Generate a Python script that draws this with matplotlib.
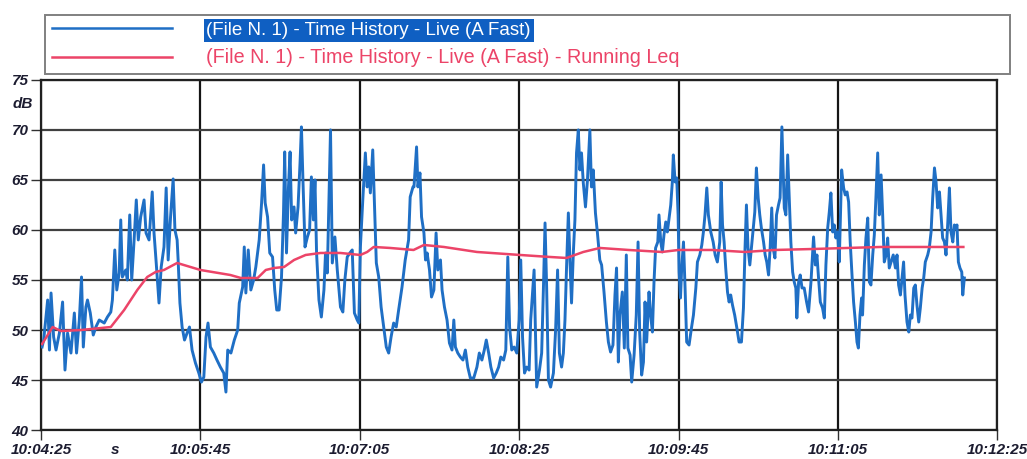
import matplotlib
matplotlib.use("Agg")
import matplotlib.pyplot as plt
from matplotlib.lines import Line2D
from matplotlib.ticker import FixedLocator, FuncFormatter
from matplotlib.transforms import blended_transform_factory

# Measurement start: 10:04:25 (all times below are seconds from the start)
START_SECONDS = 10 * 3600 + 4 * 60 + 25

live_t = [
    0.5, 1.3, 3.3, 4.2, 5.0, 6.3, 7.5, 9.2, 10.8, 12.0,
    13.3, 15.0, 16.7, 17.8, 19.2, 20.3, 21.2, 22.5, 23.3, 24.7,
    26.2, 27.5, 29.2, 31.7, 33.3, 35.0, 35.8, 37.0, 38.0, 39.2,
    40.0, 40.8, 42.5, 43.3, 44.5, 45.5, 46.7, 47.8, 48.8, 50.0,
    51.7, 52.7, 54.2, 55.8, 56.7, 57.8, 59.2, 60.3, 61.7, 62.8,
    63.8, 65.0, 66.3, 67.2, 68.3, 68.8, 69.7, 70.8, 72.0, 73.3,
    74.5, 75.8, 77.5, 79.2, 80.5, 81.7, 82.8, 83.8, 85.0, 86.7,
    88.3, 90.0, 91.7, 92.8,
    93.7, 95.3, 97.0, 98.7, 99.5, 101.2, 102.0, 102.8, 104.0, 105.3,
    106.7, 107.8, 109.5, 110.7, 111.7, 112.5, 113.7, 114.8, 116.2, 117.3,
    118.3, 119.5, 120.7, 121.7, 122.3, 123.2, 124.2, 125.0, 125.8, 127.0,
    127.8, 129.0, 130.0, 130.7, 131.5, 132.5, 133.7, 134.8, 135.7, 136.7,
    137.5, 138.3, 139.5, 140.7, 142.0, 142.8, 143.7, 144.5, 145.3, 146.2,
    147.5, 148.7, 150.3, 151.5, 152.5, 153.7, 155.0, 156.2, 157.3, 158.7,
    159.5, 160.3, 161.5, 162.8, 163.7, 164.5, 165.3, 166.5, 167.5, 168.3,
    169.5, 170.7, 172.0, 173.3, 174.5, 175.7, 177.0, 178.3, 179.5, 181.2,
    182.8, 184.5, 185.3, 186.7,
    187.2, 188.5, 189.2, 190.2, 191.0, 192.2, 193.0, 193.8, 195.0, 196.0,
    197.2, 198.3, 199.2, 200.5, 201.3, 202.5, 203.8, 205.0, 206.3, 207.2,
    208.0, 209.2, 210.5, 211.8, 213.0, 214.2, 215.5, 217.2, 218.8, 220.0,
    221.3, 222.5, 223.5, 224.7, 225.8, 227.2, 228.5, 229.7, 230.8, 232.2,
    233.3, 234.3, 235.2, 236.3, 237.5, 238.8, 240.0, 240.8, 241.7, 242.7,
    243.8, 245.0, 245.8, 246.7, 247.5, 248.2, 248.8, 250.2, 251.3, 252.2,
    253.0, 253.8, 254.7, 255.8, 257.2, 258.3, 259.3, 260.2, 261.3, 262.2,
    263.0, 263.8, 264.7, 265.5, 266.3, 267.2, 268.0, 268.8, 269.7, 270.5,
    271.3, 272.2, 273.3, 274.3, 275.5, 276.3, 277.2, 278.3, 279.3, 280.5,
    281.4, 282.6, 283.8, 284.8, 285.9, 287.1, 288.1, 288.9, 289.8, 290.6,
    291.8, 292.8, 293.8, 294.6, 295.7, 296.5, 297.7, 298.8, 299.7, 300.5,
    301.5, 302.4, 303.2, 304.0, 305.2, 306.0, 306.9, 307.7, 308.5, 309.6,
    310.2, 311.1, 311.9, 312.7, 313.6, 314.4, 315.3, 316.1, 316.9, 317.4,
    318.3, 319.1, 319.8, 320.3, 321.0, 321.6, 322.5, 323.3, 324.1, 325.3,
    326.5, 327.5, 328.7, 329.5, 330.7, 331.7, 332.5, 333.3, 334.2, 335.0,
    336.2, 337.4, 338.4, 339.5, 340.7, 341.4, 342.1, 342.9, 343.7, 344.6,
    345.4, 346.2, 347.1, 348.2, 349.3, 350.4, 351.6, 352.6, 353.4, 354.1,
    354.9, 355.8, 356.6, 357.5, 358.3, 359.1, 360.0, 360.8, 361.6, 362.7,
    363.5, 364.3, 365.2, 366.0, 366.8, 367.5, 368.4, 369.2, 370.2, 371.0, 371.9,
    373.1, 373.9, 374.8, 375.6, 376.4, 377.3, 378.1, 378.9, 379.4, 380.3,
    381.1, 382.0, 383.1, 384.3, 385.3, 386.5, 387.3, 387.8, 388.7, 389.5,
    390.3, 391.2, 392.3, 393.2, 394.0, 394.9, 395.7, 396.5, 397.4, 398.2,
    399.0, 399.9, 400.7, 401.2, 401.9, 402.9, 403.7, 404.6, 405.4, 406.2,
    407.1, 407.9, 408.8, 409.6, 410.3, 411.1, 411.9, 412.4, 413.3, 414.1,
    415.0, 415.8, 416.6, 417.5, 418.3, 419.1, 420.0, 420.8, 421.7, 422.5,
    423.3, 424.2, 425.0, 425.8, 426.7, 427.8, 428.9, 429.7, 430.5, 431.4,
    432.4, 433.0, 433.7, 434.7, 435.6, 436.4, 437.2, 438.1, 438.9, 439.7,
    440.6, 441.4, 442.3, 443.1, 443.9, 445.1, 445.9, 446.8, 447.6, 448.5,
    449.3, 450.1, 451.0, 451.8, 452.6, 453.5, 454.3, 455.2, 456.0, 456.8,
    457.7, 458.5, 459.3, 459.8, 460.5, 461.3, 462.2, 462.7, 463.5,
]

live_db = [
    48.3, 49.0, 53.0, 48.0, 53.7, 49.3, 48.0, 49.7, 52.8, 46.0,
    49.7, 47.7, 51.7, 47.7, 51.0, 55.3, 48.3, 52.3, 53.0, 51.7,
    49.5, 50.3, 51.0, 50.7, 51.3, 51.8, 53.0, 58.0, 54.0, 55.7,
    61.0, 55.3, 56.0, 55.0, 61.5, 55.0, 59.0, 63.0, 59.0, 61.3,
    63.0, 59.7, 59.0, 63.8, 59.7, 56.7, 52.7, 56.3, 58.3, 64.2,
    57.0, 61.3, 65.1, 60.0, 59.0, 57.0, 52.7, 50.3, 49.0, 49.7,
    50.3, 48.0, 46.7, 45.7, 44.8, 45.3, 49.3, 50.7, 48.3, 47.7,
    47.0, 46.3, 45.7, 43.8,
    48.0, 47.7, 49.0, 50.0, 52.7, 54.3, 58.3, 53.7, 58.0, 54.0,
    55.0, 56.3, 59.0, 62.7, 66.5, 62.7, 61.3, 57.7, 57.3, 54.0,
    52.0, 52.0, 55.3, 61.7, 67.8, 57.7, 64.3, 67.8, 61.0, 62.3,
    59.7, 62.3, 66.7, 70.3, 64.7, 58.3, 59.3, 60.0, 65.3, 61.0,
    65.0, 57.7, 53.0, 51.3, 54.0, 57.7, 55.7, 62.7, 70.0, 56.7,
    59.3, 56.0, 52.3, 51.8, 55.0, 57.3, 57.7, 58.0, 51.7, 51.0,
    50.7, 58.3, 63.0, 67.7, 64.3, 66.3, 63.7, 68.0, 61.7, 56.7,
    55.3, 52.3, 50.3, 48.3, 47.7, 49.3, 50.7, 50.3, 52.0, 54.3,
    57.0, 59.0, 63.3, 64.3,
    64.3, 68.3, 64.3, 65.7, 61.3, 59.7, 57.0, 57.7, 56.0, 53.3,
    54.0, 59.7, 56.0, 57.0, 54.0, 52.3, 51.0, 48.7, 48.0, 51.0,
    48.3, 47.7, 47.3, 47.0, 48.0, 46.3, 45.2, 45.2, 46.3, 47.7,
    47.0, 48.0, 49.0, 47.7, 46.3, 45.2, 45.7, 46.3, 47.3, 47.0,
    48.0, 57.3, 50.3, 48.0, 48.3, 47.7, 51.0, 57.0, 49.3, 45.7,
    46.3, 46.0, 51.0, 53.7, 56.0, 49.7, 44.3, 46.0, 47.7, 54.3,
    60.7, 54.3, 45.0, 44.3, 45.7, 50.0, 56.0, 47.7, 46.3, 47.7,
    51.0, 56.3, 61.7, 57.0, 52.7, 57.7, 61.0, 67.7, 70.0, 66.0,
    67.7, 64.7, 62.3, 65.0, 70.0, 64.3, 66.0, 61.7, 59.7, 57.0,
    56.5, 53.8, 50.8, 48.8, 47.8, 48.5, 53.5, 56.2, 46.8, 51.5,
    53.8, 48.2, 57.5, 48.2, 47.5, 44.8, 47.5, 51.5, 58.8, 49.8,
    45.5, 46.8, 52.8, 48.8, 53.8, 51.5, 49.8, 54.8, 58.2, 58.8,
    61.5, 58.8, 57.8, 59.5, 60.8, 59.8, 61.2, 62.5, 64.8, 67.5,
    64.8, 65.2, 61.5, 55.8, 53.2, 56.2, 58.8, 54.2, 48.8, 48.5,
    50.2, 51.5, 54.2, 56.8, 57.5, 58.5, 59.8, 61.5, 64.2, 61.5,
    59.8, 58.8, 57.5, 56.8, 58.8, 64.8, 60.5, 58.8, 56.2, 53.8,
    52.8, 53.5, 52.5, 51.5, 50.2, 48.8, 48.8, 52.2, 58.2, 62.5,
    58.2, 56.5, 58.2, 60.2, 61.8, 66.2, 63.2, 61.5, 60.2, 58.8,
    57.5, 56.8, 55.5, 58.2, 62.2, 58.2, 57.2, 61.5, 62.5, 63.2, 70.3,
    62.2, 61.5, 67.5, 63.2, 58.8, 55.8, 54.8, 54.2, 51.2, 54.8,
    55.5, 54.2, 54.2, 52.8, 51.8, 54.8, 57.5, 59.3, 56.5, 57.5,
    55.2, 52.8, 52.2, 51.2, 56.5, 60.2, 61.8, 63.7, 59.8, 60.5,
    59.2, 59.8, 56.8, 60.5, 66.0, 64.2, 63.5, 63.8, 62.8, 58.8,
    55.5, 52.8, 50.8, 48.8, 48.2, 51.5, 53.2, 51.5, 56.5, 59.2,
    61.2, 54.8, 54.5, 57.5, 59.5, 63.2, 67.7, 61.5, 65.5, 61.5,
    56.8, 57.5, 59.2, 56.2, 56.8, 57.5, 56.2, 57.5, 54.5, 53.5,
    55.5, 56.8, 53.5, 50.8, 49.8, 51.5, 51.2, 54.2, 54.5, 52.5,
    50.8, 52.2, 54.2, 55.2, 56.8, 57.5, 58.2, 59.8, 63.2, 66.2,
    64.8, 62.2, 63.8, 61.5, 59.2, 58.8, 57.5, 60.8, 64.2, 59.8,
    58.8, 60.5, 60.2, 60.5, 56.8, 56.2, 55.8, 53.5, 55.2,
]

leq_t = [
    0.5, 5.8, 10, 20, 30, 35, 41.7, 48.3, 53.3, 57.5, 61.7, 68.3,
    80, 95, 100.3, 108.7, 112.8, 117, 122, 127, 132.8, 140.3, 150.3, 160.3,
    163.7, 167, 175.3, 187, 192.2, 202.2, 218.8, 240.5, 255.5, 263.8, 272.2, 280.5,
    295, 311.7, 320, 336.7, 353.4, 368.4, 388, 404.7, 421.4, 446.4, 463,
]
leq_db = [
    48.6, 50.3, 49.9, 50.0, 50.2, 50.3, 52.0, 54.0, 55.3, 55.8, 56.0, 56.7,
    56.0, 55.5, 55.2, 55.2, 56.0, 56.2, 56.3, 57.0, 57.5, 57.7, 57.7, 57.5,
    57.8, 58.3, 58.2, 58.0, 58.5, 58.3, 57.8, 57.5, 57.3, 57.2, 57.8, 58.2,
    58.0, 57.8, 58.0, 58.0, 57.8, 58.0, 58.1, 58.2, 58.3, 58.3, 58.3,
]

series_labels = [
    "(File N. 1) - Time History - Live (A Fast)",
    "(File N. 1) - Time History - Live (A Fast) - Running Leq",
]
y_ticks = [40, 45, 50, 55, 60, 65, 70, 75]
x_ticks = [0, 80, 160, 240, 320, 400, 480]

BLUE = "#1f6fc5"
RED = "#ec4468"
TICK_COLOR = "#1c1c30"

assert len(live_t) == len(live_db)
assert len(leq_t) == len(leq_db)


def clock(sec, _pos=None):
    s = int(round(START_SECONDS + sec))
    return f"{s // 3600:02d}:{(s % 3600) // 60:02d}:{s % 60:02d}"


fig = plt.figure(figsize=(10.27, 4.59), dpi=100)
ax = fig.add_axes([0.040, 0.063, 0.931, 0.763])

ax.plot(live_t, live_db, color=BLUE, lw=2.1, solid_joinstyle="round", zorder=3)
ax.plot(leq_t, leq_db, color=RED, lw=1.8, zorder=4)

ax.set_xlim(0, 480)
ax.set_ylim(40, 75)
ax.xaxis.set_major_locator(FixedLocator(x_ticks))
ax.xaxis.set_major_formatter(FuncFormatter(clock))
ax.yaxis.set_major_locator(FixedLocator(y_ticks))

ax.grid(axis="y", color="#404040", lw=1.6, zorder=1)
ax.grid(axis="x", color="#151515", lw=1.6, zorder=1)
for side in ("left", "bottom", "top", "right"):
    ax.spines[side].set_color("#202020")
    ax.spines[side].set_linewidth(1.6)

tick_font = dict(family=["Liberation Sans", "DejaVu Sans"], weight="bold",
                 style="italic", size=11)
ax.tick_params(axis="both", length=7, width=1.0, color="#303030",
               labelcolor=TICK_COLOR, pad=2)
for lab in ax.get_xticklabels() + ax.get_yticklabels():
    lab.set_fontfamily(tick_font["family"])
    lab.set_fontweight("bold")
    lab.set_fontstyle("italic")
    lab.set_fontsize(11)

# Unit labels
ax.text(-0.009, 72.6, "dB", transform=blended_transform_factory(ax.transAxes, ax.transData),
        ha="right", va="center", color=TICK_COLOR, **tick_font)
ax.text(37, -0.036, "s", transform=blended_transform_factory(ax.transData, ax.transAxes),
        ha="center", va="top", color=TICK_COLOR, **tick_font)

# Legend across the top
handles = [Line2D([], [], color=BLUE, lw=1.8), Line2D([], [], color=RED, lw=1.8)]
leg = fig.legend(
    handles, series_labels,
    loc="upper left", bbox_to_anchor=(0.044, 0.845, 0.939, 0.122),
    mode="expand", ncol=1, frameon=True, fancybox=False, borderaxespad=0.0,
    handlelength=6.4, handletextpad=1.85, borderpad=0.35, labelspacing=0.5,
    prop=dict(family=["Liberation Sans", "DejaVu Sans"], size=13.5),
)
leg.get_frame().set_edgecolor("#606060")
leg.get_frame().set_linewidth(1.4)
texts = leg.get_texts()
texts[0].set_color("white")
texts[0].set_bbox(dict(facecolor="#0f5fc2", edgecolor="none", pad=2.0))
texts[1].set_color(RED)
texts[1].set_fontsize(14.2)

fig.savefig("out.png", dpi=100, facecolor="white")
